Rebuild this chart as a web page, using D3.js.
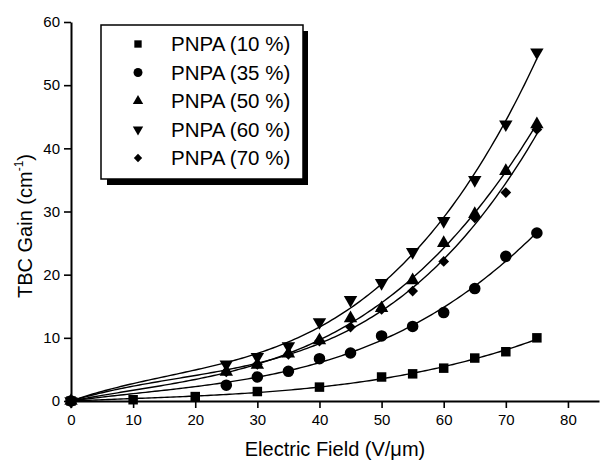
<!DOCTYPE html>
<html>
<head>
<meta charset="utf-8">
<script src="https://cdn.jsdelivr.net/npm/d3@7"></script>
<style>
  body { margin: 0; background: #fff; }
  svg { font-family: "Liberation Sans", Arial, sans-serif; }
</style>
</head>
<body>
<svg width="600" height="460"></svg>
<script>
// data: TBC gain (cm^-1) vs electric field (V/um)
const labels = ["PNPA (10 %)", "PNPA (35 %)", "PNPA (50 %)", "PNPA (60 %)", "PNPA (70 %)"];
const shapes = ["square", "circle", "up", "down", "diamond"];

const field10 = [0, 10, 20, 30, 40, 50, 55, 60, 65, 70, 75];
const gain10  = [0, 0.2, 0.7, 1.5, 2.2, 3.8, 4.3, 5.2, 6.8, 7.8, 10.0];

const field35 = [0, 25, 30, 35, 40, 45, 50, 55, 60, 65, 70, 75];
const gain35  = [0, 2.5, 3.8, 4.7, 6.7, 7.6, 10.3, 11.8, 14.0, 17.8, 22.9, 26.6];

const field50 = [0, 25, 30, 35, 40, 45, 50, 55, 60, 65, 70, 75];
const gain50  = [0, 4.6, 5.7, 7.5, 9.6, 13.1, 14.7, 19.1, 25.0, 29.6, 36.4, 43.8];

const field60 = [0, 25, 30, 35, 40, 45, 50, 55, 60, 65, 70, 75];
const gain60  = [0, 5.8, 7.0, 8.7, 12.5, 16.0, 18.7, 23.6, 28.5, 35.0, 43.8, 55.2];

const field70 = [0, 25, 30, 35, 40, 45, 50, 55, 60, 65, 70, 75];
const gain70  = [0, 4.6, 5.8, 7.4, 9.5, 11.7, 14.5, 17.4, 22.1, 29.0, 33.0, 43.0];

const xTicks = [0, 10, 20, 30, 40, 50, 60, 70, 80];
const yTicks = [0, 10, 20, 30, 40, 50, 60];

const fields = [field10, field35, field50, field60, field70];
const gains = [gain10, gain35, gain50, gain60, gain70];

const svg = d3.select("svg");
const x = d3.scaleLinear().domain([0, 85]).range([71, 599]);
const y = d3.scaleLinear().domain([0, 60]).range([401, 22]);

// least squares fit y = a x + b x^2 + c x^3 (through origin)
function fitCubic(xs, ys) {
  const M = [[0,0,0],[0,0,0],[0,0,0]], v = [0,0,0];
  xs.forEach((xv, i) => {
    const p = [xv, xv*xv, xv*xv*xv];
    for (let r = 0; r < 3; r++) {
      v[r] += p[r] * ys[i];
      for (let c = 0; c < 3; c++) M[r][c] += p[r] * p[c];
    }
  });
  for (let k = 0; k < 3; k++) {
    for (let r = k + 1; r < 3; r++) {
      const f = M[r][k] / M[k][k];
      for (let c = k; c < 3; c++) M[r][c] -= f * M[k][c];
      v[r] -= f * v[k];
    }
  }
  const s = [0,0,0];
  for (let r = 2; r >= 0; r--) {
    let t = v[r];
    for (let c = r + 1; c < 3; c++) t -= M[r][c] * s[c];
    s[r] = t / M[r][r];
  }
  return xv => s[0]*xv + s[1]*xv*xv + s[2]*xv*xv*xv;
}

// fitted curves
const line = d3.line().x(d => x(d[0])).y(d => y(d[1]));
const xs = d3.range(0, 75.01, 0.5);
fields.forEach((f, i) => {
  const fn = fitCubic(f, gains[i]);
  svg.append("path")
    .attr("d", line(xs.map(v => [v, fn(v)])))
    .attr("fill", "none")
    .attr("stroke", "#000")
    .attr("stroke-width", 1.4);
});

// markers
function symbolPath(shape, big) {
  const k = big ? 1 : 0.6;
  if (shape === "square") return d3.symbol(d3.symbolSquare, 90 * k)();
  if (shape === "circle") return d3.symbol(d3.symbolCircle, 105 * k)();
  if (shape === "up" || shape === "down") return d3.symbol(d3.symbolTriangle, 78 * k)();
  return d3.symbol(d3.symbolSquare, 58 * k)();
}
function symbolRotate(shape) {
  if (shape === "down") return " rotate(180)";
  if (shape === "diamond") return " rotate(45)";
  return "";
}

fields.forEach((f, i) => {
  svg.append("g").selectAll("path")
    .data(f.map((v, j) => [v, gains[i][j]]))
    .join("path")
    .attr("d", symbolPath(shapes[i], true))
    .attr("transform", d => `translate(${x(d[0])},${y(d[1])})` + symbolRotate(shapes[i]))
    .attr("fill", "#000");
});

// axes
const xAxis = svg.append("g").attr("transform", `translate(0,${y(0)})`);
xAxis.call(d3.axisBottom(x).tickValues(d3.range(5, 90, 10)).tickSize(4).tickFormat(""));
xAxis.call(d3.axisBottom(x).tickValues(xTicks).tickSize(7).tickPadding(6).tickSizeOuter(0));
const yAxis = svg.append("g").attr("transform", `translate(${x(0)},0)`);
yAxis.call(d3.axisLeft(y).tickValues(d3.range(5, 60, 10)).tickSize(4).tickFormat(""));
yAxis.call(d3.axisLeft(y).tickValues(yTicks).tickSize(7).tickPadding(4).tickSizeOuter(0));
svg.selectAll(".domain").attr("stroke-width", 2).attr("stroke", "#000");
svg.selectAll(".tick line").attr("stroke-width", 1.6).attr("stroke", "#000");
svg.selectAll(".tick text").attr("font-size", 15).attr("fill", "#000")
  .attr("font-family", "Liberation Sans, Arial, sans-serif");

// axis titles
svg.append("text")
  .attr("x", 335).attr("y", 456)
  .attr("text-anchor", "middle")
  .attr("font-size", 20)
  .text("Electric Field (V/\u03bcm)");

const yt = svg.append("text")
  .attr("transform", "translate(32,226) rotate(-90)")
  .attr("text-anchor", "middle")
  .attr("font-size", 20);
yt.append("tspan").text("TBC Gain (cm");
yt.append("tspan").attr("font-size", 12).attr("dy", -9).text("-1");
yt.append("tspan").attr("dy", 9).text(")");

// legend
const lg = svg.append("g");
lg.append("rect").attr("x", 107).attr("y", 31).attr("width", 201).attr("height", 154).attr("fill", "#000");
lg.append("rect").attr("x", 101).attr("y", 25).attr("width", 202).attr("height", 154)
  .attr("fill", "#fff").attr("stroke", "#000").attr("stroke-width", 1.5);
labels.forEach((name, i) => {
  const cy = 44 + i * 28.5;
  lg.append("path")
    .attr("d", symbolPath(shapes[i], false))
    .attr("transform", `translate(138,${cy})` + symbolRotate(shapes[i]))
    .attr("fill", "#000");
  lg.append("text")
    .attr("x", 171).attr("y", cy + 7)
    .attr("font-size", 20.5)
    .text(name);
});
</script>
</body>
</html>
